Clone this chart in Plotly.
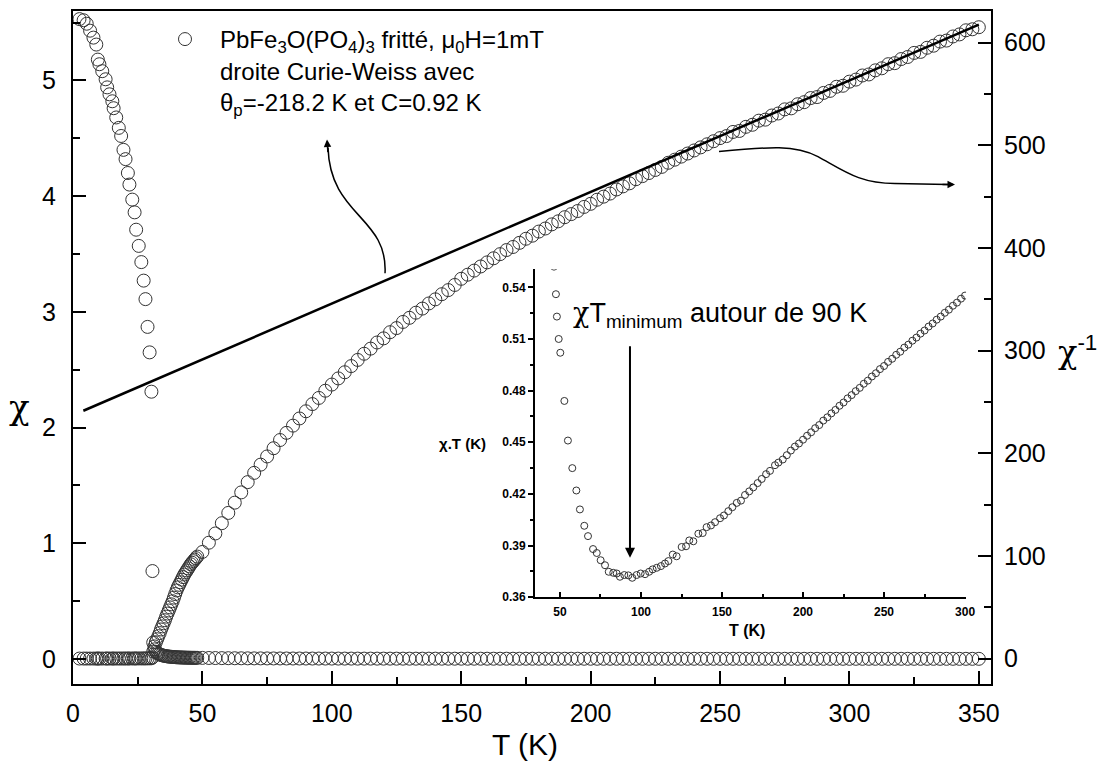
import plotly.graph_objects as go

# ---- data ----
# chi (left axis), low temperature branch
T_low = [2.5, 4.1, 5.3, 6.6, 7.9, 9.0, 9.6, 10.2, 11.3, 12.6, 13.2, 14.1, 15.2, 15.7,
         16.7, 17.7, 18.6, 19.5, 20.3, 21.2, 21.8, 22.9, 23.8, 24.4, 25.4, 26.4, 27.3,
         28.0, 28.8, 29.6, 30.3, 30.7]
chi_low = [5.53, 5.52, 5.49, 5.43, 5.37, 5.31, 5.18, 5.14, 5.08, 5.01, 4.94, 4.88, 4.82,
           4.76, 4.68, 4.59, 4.52, 4.40, 4.32, 4.20, 4.10, 3.97, 3.86, 3.71, 3.57, 3.43,
           3.27, 3.11, 2.87, 2.65, 2.31, 0.76]

# chi^-1 (right axis) above the transition
T_mid = [31.0, 31.5, 32.0, 32.5, 33.0, 33.5, 34.0, 34.5, 35.0, 35.5, 36.0, 36.5, 37.0,
         37.5, 38.0, 38.5, 39.0, 39.5, 40.0, 40.5, 41.0, 41.5, 42.0, 42.5, 43.0, 43.5,
         44.0, 44.5, 45.0, 45.5, 46.0, 46.5, 47.0, 47.5, 48.0]
chi_inv_mid = [7, 12, 16, 19, 22, 25, 28.5, 31.5, 34.5, 37.5, 41, 44, 47, 50, 53, 56,
               59.5, 63, 66.5, 69.5, 72, 74.5, 77, 79.5, 82, 84, 86, 88, 90, 92, 93.5,
               95, 96.5, 98, 99.5]

T_high = [50, 52.5, 55, 57.5, 60, 62.5, 65, 67.5, 70, 72.5, 75, 77.5, 80, 82.5, 85, 87.5,
          90, 92.5, 95, 97.5, 100, 102.5, 105, 107.5, 110, 112.5, 115, 117.5, 120, 122.5,
          125, 127.5, 130, 132.5, 135, 137.5, 140, 142.5, 145, 147.5, 150, 152.5, 155,
          157.5, 160, 162.5, 165, 167.5, 170, 172.5, 175, 177.5, 180, 182.5, 185, 187.5,
          190, 192.5, 195, 197.5, 200, 202.5, 205, 207.5, 210, 212.5, 215, 217.5, 220,
          222.5, 225, 227.5, 230, 232.5, 235, 237.5, 240, 242.5, 245, 247.5, 250, 252.5,
          255, 257.5, 260, 262.5, 265, 267.5, 270, 272.5, 275, 277.5, 280, 282.5, 285,
          287.5, 290, 292.5, 295, 297.5, 300, 302.5, 305, 307.5, 310, 312.5, 315, 317.5,
          320, 322.5, 325, 327.5, 330, 332.5, 335, 337.5, 340, 342.5, 345, 347.5, 350]
chi_inv_high = [104, 113, 122, 132, 142, 152, 162, 172, 181, 189, 197, 205, 213, 220, 227,
                234, 241, 248, 254, 261, 267, 273, 279, 285, 291, 297, 302, 308, 312, 318,
                322, 328, 332, 337, 341, 346, 350, 355, 359, 364, 370, 374, 378, 382, 386,
                390, 394, 398, 401, 405, 409, 412, 416, 419, 423, 426, 430, 433, 436, 440,
                443, 447, 450, 453, 457, 460, 463, 467, 470, 473, 476, 479, 483, 486, 489,
                492, 495, 498, 501, 504, 507, 509, 513, 514, 518, 520, 524, 525, 529, 531,
                535, 536, 540, 542, 546, 547, 551, 553, 557, 558, 562, 564, 568, 569, 573,
                575, 579, 580, 584, 586, 590, 591, 595, 597, 601, 602, 606, 608, 612, 613,
                615]

# Curie-Weiss straight line (theta_p = -218.2 K, C = 0.92 K)
T_cw = [4, 350]
chi_inv_cw = [241.5, 617.6]

# inset: chi.T vs T
T_in = [45.3, 46.3, 47.5, 48.1, 49.2, 50.2, 52.7, 54.9, 57.6, 60.1, 62.3, 65.0, 67.3, 70.4,
        72.7, 75.1, 77.8, 80.1, 82.9, 85.0, 87.0, 89.7, 92.2, 94.6, 97.3, 99.8, 102.5,
        105.0, 107.2, 109.7, 112.3, 114.8, 116.9, 119.6, 122.0, 125.1, 127.8, 129.8,
        132.3, 135.4, 138.1, 140.5, 143.2, 145.7, 148.8, 151.2, 153.9, 156.4, 159.1,
        161.7, 164.2, 166.8, 169.3, 172.0, 174.5, 177.2, 179.6, 182.7, 184.8, 187.5,
        190, 192.5, 195, 197.5, 200, 202.5, 205, 207.5, 210, 212.5, 215, 217.5, 220,
        222.5, 225, 227.5, 230, 232.5, 235, 237.5, 240, 242.5, 245, 247.5, 250, 252.5,
        255, 257.5, 260, 262.5, 265, 267.5, 270, 272.5, 275, 277.5, 280, 282.5, 285,
        287.5, 290, 292.5, 295, 297.5, 300]
chiT_in = [0.570, 0.552, 0.536, 0.523, 0.510, 0.502, 0.474, 0.451, 0.435, 0.422, 0.411,
           0.4015, 0.3955, 0.388, 0.3857, 0.3815, 0.3786, 0.3748, 0.3742, 0.3738, 0.3719,
           0.3729, 0.3727, 0.3713, 0.3729, 0.3738, 0.3734, 0.3748, 0.3762, 0.3771, 0.3781,
           0.3796, 0.381, 0.3848, 0.3838, 0.3892, 0.3896, 0.393, 0.3925, 0.3969, 0.3973,
           0.4007, 0.4017, 0.4036, 0.4059, 0.4075, 0.41, 0.4123, 0.4148, 0.4161, 0.4194,
           0.4215, 0.4238, 0.4263, 0.4287, 0.4315, 0.4334, 0.4367, 0.4382, 0.440, 0.4425,
           0.4452, 0.4475, 0.4493, 0.4515, 0.4538, 0.4558, 0.4582, 0.4600, 0.4626, 0.4645,
           0.4668, 0.4688, 0.4712, 0.4731, 0.4755, 0.4774, 0.4797, 0.4816, 0.4840, 0.4858,
           0.4882, 0.4901, 0.4925, 0.4943, 0.4967, 0.4985, 0.5008, 0.5026, 0.5050, 0.5067,
           0.5090, 0.5108, 0.5131, 0.5149, 0.5172, 0.5190, 0.5212, 0.5230, 0.5252, 0.5270,
           0.5293, 0.5311, 0.5334, 0.5352]

# the other branch of each quantity is simply the reciprocal
T_up = T_mid + T_high
chi_inv_up = chi_inv_mid + chi_inv_high
chi_up = [1 / v for v in chi_inv_up]
chi_inv_low = [1 / c for c in chi_low]

FONT = "Liberation Sans"
OFF = 8                        # page body margin around the figure
L, R, T, B = 73, 991, 9, 684   # plot area, in page pixels
W, H = 1109 - OFF, 766 - OFF


def greek(ch):
    return f"<span style=\"font-family:'DejaVu Serif'\">{ch}</span>"


def pp(x, y):
    """page pixel position -> paper coordinates"""
    return (x - L) / (R - L), (B - y) / (B - T)


def path(cmds):
    out = []
    for c in cmds:
        if isinstance(c, str):
            out.append(c)
        else:
            px, py = pp(*c)
            out.append(f"{px:.4f},{py:.4f}")
    return " ".join(out)


circ = dict(symbol="circle-open", size=13, color="#333", line=dict(width=1, color="#333"))

legend_name = ("PbFe<sub>3</sub>O(PO<sub>4</sub>)<sub>3</sub> fritté, μ<sub>0</sub>H=1mT<br>"
               "droite Curie-Weiss avec<br>"
               "θ<sub>p</sub>=-218.2 K et C=0.92 K")

fig = go.Figure()
fig.add_trace(go.Scatter(x=T_low, y=chi_low, mode="markers", marker=circ,
                         name=legend_name, showlegend=True, yaxis="y"))
fig.add_trace(go.Scatter(x=T_up, y=chi_up, mode="markers", marker=circ,
                         showlegend=False, yaxis="y"))
fig.add_trace(go.Scatter(x=T_low, y=chi_inv_low, mode="markers", marker=circ,
                         showlegend=False, yaxis="y2"))
fig.add_trace(go.Scatter(x=T_up, y=chi_inv_up, mode="markers", marker=circ,
                         showlegend=False, yaxis="y2"))
fig.add_trace(go.Scatter(x=T_cw, y=chi_inv_cw, mode="lines",
                         line=dict(color="black", width=2.5),
                         showlegend=False, yaxis="y2"))
fig.add_trace(go.Scatter(x=T_in, y=chiT_in, mode="markers",
                         marker=dict(symbol="circle-open", size=7, color="#333",
                                     line=dict(width=1, color="#333")),
                         showlegend=False, xaxis="x2", yaxis="y3"))

axis_common = dict(showline=True, linewidth=2, linecolor="black", showgrid=False,
                   zeroline=False, ticks="inside", ticklen=13, tickwidth=2,
                   tickcolor="black", tickfont=dict(family=FONT, size=25, color="black"))

inset_font = dict(family=FONT, size=12, color="black", weight="bold")

fig.update_layout(
    width=W, height=H,
    margin=dict(l=L - OFF, r=W - (R - OFF), t=T - OFF, b=H - (B - OFF)),
    paper_bgcolor="white", plot_bgcolor="white",
    font=dict(family=FONT, color="black"),
    xaxis=dict(axis_common, range=[0, 354.7], tick0=0, dtick=50, mirror=True,
               ticklabelstandoff=6,
               minor=dict(dtick=25, tick0=0, ticks="inside", ticklen=7, tickwidth=2,
                          tickcolor="black")),
    yaxis=dict(axis_common, range=[-0.216, 5.60], tick0=0, dtick=1, side="left",
               ticklabelstandoff=10,
               minor=dict(dtick=0.5, tick0=0, ticks="inside", ticklen=7, tickwidth=2,
                          tickcolor="black")),
    yaxis2=dict(axis_common, range=[-24.6, 630.8], tick0=0, dtick=100, side="right",
                overlaying="y", anchor="x", ticklabelstandoff=6,
                minor=dict(dtick=50, tick0=0, ticks="inside", ticklen=7, tickwidth=2,
                           tickcolor="black")),
    xaxis2=dict(domain=[0.5033, 0.9728], anchor="y3", range=[34.6, 300.6], tick0=0,
                dtick=50, showline=True, linewidth=2, linecolor="black", showgrid=False,
                zeroline=False, ticks="inside", ticklen=5, tickwidth=1.5,
                tickcolor="black", tickfont=inset_font, ticklabelstandoff=2,
                minor=dict(dtick=25, tick0=0, ticks="inside", ticklen=3, tickwidth=1.5,
                           tickcolor="black")),
    yaxis3=dict(domain=[0.1289, 0.6163], anchor="x2", range=[0.36, 0.5505], tick0=0.36,
                dtick=0.03, tickformat=".2f", showline=True, linewidth=2,
                linecolor="black", showgrid=False, zeroline=False, ticks="outside",
                ticklen=5, tickwidth=1.5, tickcolor="black", tickfont=inset_font,
                minor=dict(dtick=0.015, tick0=0.36, ticks="outside", ticklen=3,
                           tickwidth=1.5, tickcolor="black")),
    legend=dict(x=pp(150, 0)[0], y=pp(0, 15)[1], xanchor="left", yanchor="top",
                bgcolor="rgba(0,0,0,0)", borderwidth=0, valign="top", itemwidth=60,
                font=dict(family=FONT, size=24, color="black")),
)

# curved arrows (label -> Curie-Weiss line, curve -> right axis)
arrow_line = dict(color="black", width=1.5)
fig.add_shape(type="path", xref="paper", yref="paper", line=arrow_line,
              path=path(["M", (385, 272), "C", (388, 215), (330, 215), (328, 146)]))
fig.add_shape(type="path", xref="paper", yref="paper", line=arrow_line,
              path=path(["M", (719, 150), "C", (770, 145), (795, 143), (818, 155),
                         "C", (845, 170), (860, 182), (895, 182), "L", (948, 183)]))

ann = []
for (x, y), (ax, ay) in [((327, 138), (1, 14)), ((955, 183), (-14, 0))]:
    px_, py_ = pp(x, y)
    ann.append(dict(x=px_, y=py_, xref="paper", yref="paper", text="", showarrow=True,
                    ax=ax, ay=ay, arrowhead=2, arrowsize=1, arrowwidth=1.5,
                    arrowcolor="black", standoff=0))

# vertical arrow to the chi.T minimum
ann.append(dict(x=93.2, y=0.383, xref="x2", yref="y3", text="", showarrow=True,
                ax=0, ay=-213, arrowhead=2, arrowsize=1, arrowwidth=2,
                arrowcolor="black", standoff=0))


def label(x, y, text, size, xanchor="center", bold=False):
    px_, py_ = pp(x, y)
    f = dict(family=FONT, size=size, color="black")
    if bold:
        f["weight"] = "bold"
    return dict(x=px_, y=py_, xref="paper", yref="paper", text=text, showarrow=False,
                xanchor=xanchor, yanchor="middle", font=f)


ann += [
    label(19, 406, greek("χ"), 34),
    label(1056, 350, greek("χ") + "<sup>-1</sup>", 32, xanchor="left"),
    label(525, 745, "T (K)", 30),
    label(462, 443, "χ.T (K)", 15, bold=True),
    label(747, 630, "T (K)", 16, bold=True),
    label(571, 313, greek("χ") + "T<sub>minimum</sub> autour de 90 K", 27, xanchor="left"),
]
fig.update_layout(annotations=ann)

fig.write_html("out.html")
